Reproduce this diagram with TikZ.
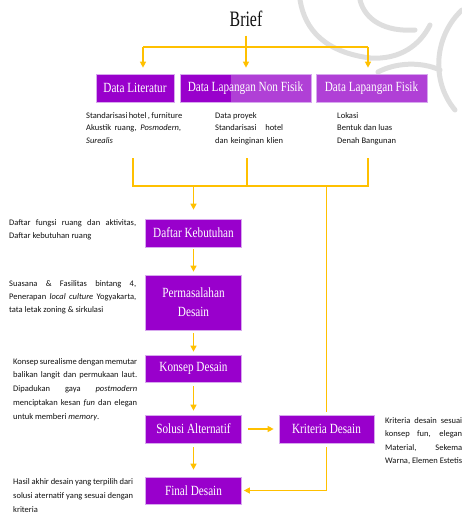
\documentclass[tikz,border=0pt]{standalone}
\usepackage{fontspec}
\setmainfont{Liberation Serif}
\newfontfamily\boxfont[FakeStretch=0.8]{Liberation Serif}
\newfontfamily\brieffont[FakeStretch=0.72]{Liberation Serif}
\newfontfamily\smallfont{Carlito}
\usetikzlibrary{arrows.meta,backgrounds,calc}
\definecolor{boxpurple}{HTML}{9900CC}
\definecolor{lightpurple}{HTML}{B040D6}
\definecolor{boxedge}{HTML}{D7A8EE}
\definecolor{gold}{HTML}{FFC000}
\definecolor{wm}{HTML}{DEDEDE}
\definecolor{txt}{HTML}{111111}
\newcommand{\jl}[2]{\makebox[#1pt][s]{#2}}
\tikzset{
  pbox/.style={draw=boxedge, line width=0.7pt, fill=boxpurple, text=white,
    font=\boxfont\fontsize{14}{19}\selectfont, inner sep=0pt,
    minimum height=28pt, align=center},
  conn/.style={draw=gold, line width=1.3pt},
  arr/.style={conn, -{Triangle[width=6pt,length=6pt]}},
  note/.style={font=\smallfont\fontsize{8.5}{13}\selectfont, align=left,
    inner sep=0pt, text=txt, anchor=north west},
  wmline/.style={draw=wm, line width=5pt, line cap=round}
}
\begin{document}
\begin{tikzpicture}[x=1pt,y=-1pt]
\useasboundingbox (0,0) rectangle (462,515);

% watermark strokes
\path[wmline] (300,0) .. controls (305,30) and (325,52) .. (370,58);
\path[wmline] (370,58) .. controls (400,60) and (420,45) .. (430,25);
\path[wmline] (360,0) .. controls (365,20) and (385,32) .. (415,30);
\path[wmline] (462,10) .. controls (435,35) and (430,80) .. (455,110);
\path[wmline] (378,72) .. controls (395,63) and (420,61) .. (440,70);

% title
\node[font=\brieffont\fontsize{22}{22}\selectfont, text=txt, inner sep=0pt] (brief) at (246,19) {Brief};

% top boxes
\node[pbox, minimum width=78pt] (lit) at (135,88) {Data Literatur};
\node[pbox, minimum width=131pt, fill=none] (nf) at (245.5,88) {Data Lapangan Non Fisik};
\node[pbox, minimum width=111pt, fill=lightpurple] (fis) at (371.5,88) {Data Lapangan Fisik};
\begin{scope}[on background layer]
  \fill[boxpurple] (nf.south west) rectangle ($(nf.north west)+(51,0)$);
  \fill[lightpurple] ($(nf.south west)+(51,0)$) rectangle (nf.north east);
\end{scope}

% notes under top boxes
\node[note, font=\smallfont\fontsize{8.5}{12.5}\selectfont] (littxt) at (86,112)
  {\jl{95}{Standarisasi hotel , furniture}\\ \jl{95}{Akustik ruang, \textit{Posmodern,}}\\ \textit{Surealis}};
\node[note, font=\smallfont\fontsize{8.5}{12.5}\selectfont] (nftxt) at (215,112)
  {Data proyek\\ \jl{68}{Standarisasi hotel}\\ \jl{68}{dan keinginan klien}};
\node[note, font=\smallfont\fontsize{8.5}{12.5}\selectfont] (fistxt) at (337,112)
  {Lokasi\\ Bentuk dan luas\\ Denah Bangunan};

% main column
\node[pbox, minimum width=96pt] (dk) at (193.5,233) {Daftar Kebutuhan};
\node[pbox, minimum width=96pt, minimum height=55pt] (pd) at (193.5,302.5) {Permasalahan\\ Desain};
\node[pbox, minimum width=96pt, minimum height=27pt] (kon) at (193.5,368.5) {Konsep Desain};
\node[pbox, minimum width=96pt] (sa) at (193.5,429) {Solusi Alternatif};
\node[pbox, minimum width=96pt, minimum height=27pt] (fd) at (193.5,490.5) {Final Desain};
\node[pbox, minimum width=95pt] (kd) at (326.5,429) {Kriteria Desain};

% left notes
\node[note, font=\smallfont\fontsize{8.5}{13.5}\selectfont] (dktxt) at (9,219)
  {\jl{127}{Daftar fungsi ruang dan aktivitas,}\\ Daftar kebutuhan ruang};
\node[note] (pdtxt) at (9,280)
  {\jl{127}{Suasana \& Fasilitas bintang 4,}\\ \jl{127}{Penerapan \textit{local culture} Yogyakarta,}\\ tata letak zoning \& sirkulasi};
\node[note, font=\smallfont\fontsize{8.5}{13.75}\selectfont] (kontxt) at (13,358)
  {\jl{124}{Konsep surealisme dengan memutar}\\ \jl{124}{balikan langit dan permukaan laut.}\\ \jl{124}{Dipadukan gaya \textit{postmodern}}\\ \jl{124}{menciptakan kesan \textit{fun} dan elegan}\\ untuk memberi \textit{memory}.};
\node[note, font=\smallfont\fontsize{8.5}{14}\selectfont] (fdtxt) at (13,478)
  {\jl{120}{Hasil akhir desain yang terpilih dari}\\ \jl{120}{solusi aternatif yang sesuai dengan}\\ kriteria};
\node[note, font=\smallfont\fontsize{8.5}{13.5}\selectfont] (kdtxt) at (385,417)
  {\jl{77}{Kriteria desain sesuai}\\ \jl{77}{konsep fun, elegan}\\ \jl{77}{Material, Sekema}\\ Warna, Elemen Estetis};

% top connectors
\coordinate (bjl) at (143,47);
\coordinate (bjr) at (368,47);
\draw[conn] (bjl) -- (bjr);
\draw[arr, shorten <=8.5pt, shorten >=6pt] (brief.south) -- (brief.south |- nf.north);
\draw[arr, shorten >=6pt] (bjl) -- (bjl |- lit.north);
\draw[arr, shorten >=6pt] (bjr) -- (bjr |- fis.north);

% merge connectors
\coordinate (c1) at (133,158);
\coordinate (c2) at (247,158);
\coordinate (c3) at (368,158);
\coordinate (h1) at (133,186);
\coordinate (h2) at (247,186);
\coordinate (h3) at (368,186);
\draw[conn] (c1) -- (h1) -- (h3) -- (c3);
\draw[conn] (c2) -- (h2);
\draw[arr, shorten >=9pt] (dk.north |- h1) -- (dk.north);
\draw[conn, shorten >=3pt] (kd.north |- h1) -- (kd.north);

% main flow
\draw[arr, shorten <=2pt, shorten >=3pt] (dk) -- (pd);
\draw[arr, shorten <=3pt, shorten >=3pt] (pd) -- (kon);
\draw[arr, shorten <=4pt, shorten >=4pt] (kon) -- (sa);
\draw[arr, shorten <=4pt, shorten >=7pt] (sa) -- (fd);
\draw[arr, shorten <=6pt, shorten >=5pt] (sa) -- (kd);
\draw[arr, shorten <=4pt, shorten >=2pt] (kd.south) |- (fd.east);
\end{tikzpicture}
\end{document}
